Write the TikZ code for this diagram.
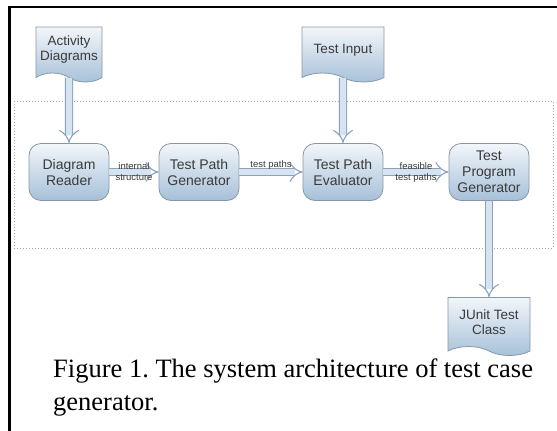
\documentclass[tikz,border=0pt]{standalone}
\usepackage{fontspec}
\setmainfont{Liberation Serif}
\setsansfont{Liberation Sans}
\usetikzlibrary{arrows.meta,shapes.symbols}

\definecolor{boxline}{HTML}{8797AA}
\definecolor{boxtop}{HTML}{F2F6FA}
\definecolor{boxbot}{HTML}{A6C0D8}
\definecolor{arrline}{HTML}{8CA2BA}
\definecolor{arrfill}{HTML}{D6E4F1}
\definecolor{txt}{HTML}{3A3A3A}

\tikzstyle{proc}=[rectangle,rounded corners=12pt,draw=boxline,line width=0.8pt,top color=boxtop,bottom color=boxbot,minimum width=80pt,minimum height=57pt,align=center,text=txt,font=\fontsize{14pt}{16pt}\selectfont\sffamily]
\tikzstyle{doc}=[tape,tape bend top=none,tape bend bottom=out and in,tape bend height=9pt,draw=boxline,line width=0.8pt,top color=boxtop,bottom color=boxbot,minimum height=55pt,align=center,text=txt,font=\fontsize{13.5pt}{15pt}\selectfont\sffamily]
\tikzstyle{flow}=[draw=arrline,line width=1.1pt,double=arrfill,double distance=6pt,-{Implies[scale=1.5]}]
\tikzstyle{lbl}=[text=txt,inner sep=1.5pt,font=\fontsize{9.5pt}{10pt}\selectfont\sffamily]

\begin{document}
\begin{tikzpicture}
		\useasboundingbox (0pt,0pt) rectangle (557pt,-431pt);
		\fill[white] (0pt,0pt) rectangle (557pt,-431pt);
		% frame of the scanned page
		\draw[line width=2.5pt] (9.5pt,-431pt) |- (557pt,-7pt);
		\draw[gray!70,line width=1pt,dash pattern=on 1pt off 2pt] (14pt,-101pt) rectangle (553pt,-248pt);

		\node[proc] (reader) at (69pt,-172pt) {Diagram\\Reader};
		\node[proc,right of=reader,node distance=130pt] (pathgen) {Test Path\\Generator};
		\node[proc,right of=pathgen,node distance=144pt] (evaluator) {Test Path\\Evaluator};
		\node[proc,right of=evaluator,node distance=146pt] (proggen) {Test\\Program\\Generator};
		\node[doc,minimum width=66pt,above of=reader,node distance=122pt] (activity) {Activity\\Diagrams};
		\node[doc,minimum width=82pt,above of=evaluator,node distance=122pt] (input) {Test Input};
		\node[doc,minimum width=82pt,minimum height=58pt,below of=proggen,node distance=150pt] (junit) {JUnit Test\\Class};

		\draw[flow] (activity)--(reader);
		\draw[flow] (reader)--node[lbl,above]{internal}node[lbl,below]{structure}(pathgen);
		\draw[flow] (pathgen)--node[lbl,above]{test paths}(evaluator);
		\draw[flow] (input)--(evaluator);
		\draw[flow] (evaluator)--node[lbl,above]{feasible}node[lbl,below]{test paths}(proggen);
		\draw[flow] (proggen)--(junit);

		\node[anchor=base west,align=left,inner sep=0pt,font=\fontsize{26.5pt}{33pt}\selectfont\frenchspacing] (caption) at (53pt,-410pt) {Figure 1. The system architecture of test case\\generator.};
	\end{tikzpicture}
\end{document}
